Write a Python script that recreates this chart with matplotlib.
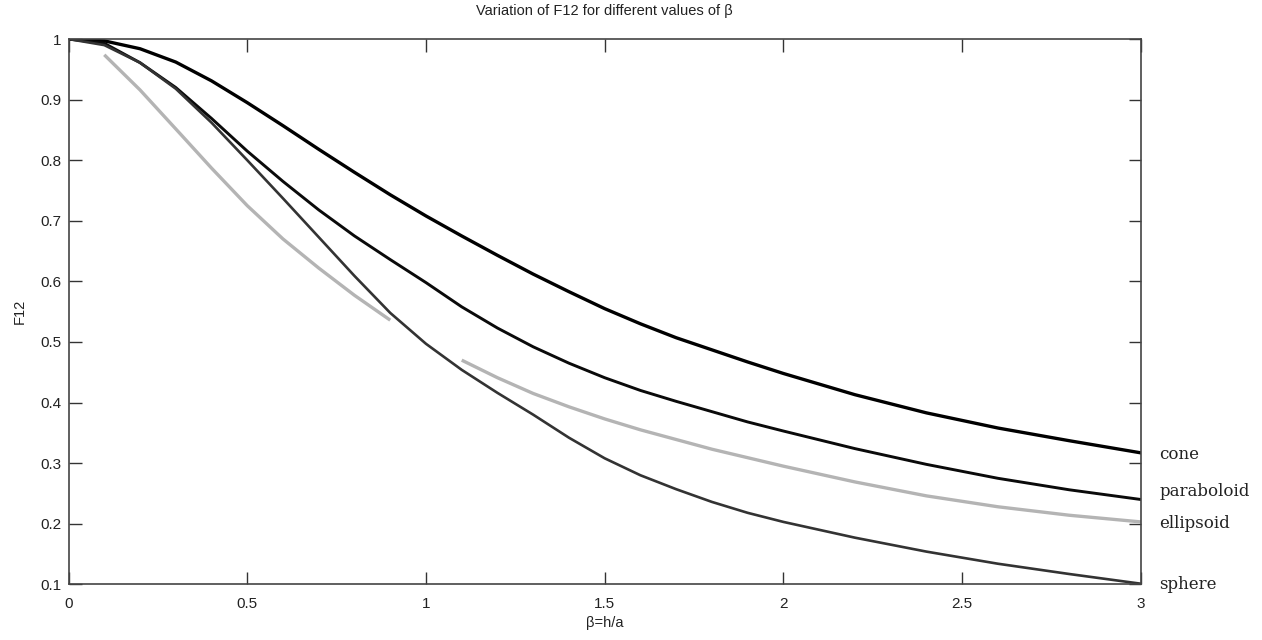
import numpy as np
import matplotlib
matplotlib.use("Agg")
import matplotlib.pyplot as plt
import matplotlib.transforms as mtransforms

# values
beta = [0, 0.1, 0.2, 0.3, 0.4, 0.5, 0.6, 0.7, 0.8, 0.9, 1.0, 1.1, 1.2, 1.3, 1.4,
        1.5, 1.6, 1.7, 1.8, 1.9, 2.0, 2.2, 2.4, 2.6, 2.8, 3.0]
cone_f = [1.0, 0.997, 0.984, 0.962, 0.931, 0.895, 0.857, 0.818, 0.78, 0.743, 0.708,
          0.675, 0.643, 0.612, 0.583, 0.555, 0.53, 0.507, 0.487, 0.467, 0.448,
          0.413, 0.383, 0.358, 0.337, 0.317]
para_f = [1.0, 0.993, 0.961, 0.92, 0.869, 0.815, 0.765, 0.718, 0.675, 0.636, 0.598,
          0.558, 0.523, 0.492, 0.465, 0.441, 0.42, 0.402, 0.385, 0.368, 0.353,
          0.324, 0.298, 0.275, 0.256, 0.240]
sph_f = [1.0, 0.99, 0.961, 0.918, 0.862, 0.8, 0.737, 0.673, 0.609, 0.548, 0.497,
         0.454, 0.416, 0.38, 0.342, 0.308, 0.28, 0.257, 0.236, 0.218, 0.203,
         0.177, 0.154, 0.134, 0.117, 0.101]

# ellipsoid is drawn in two pieces with a gap around beta = 1
ell1_b = [0.1, 0.2, 0.315, 0.4, 0.5, 0.6, 0.7, 0.8, 0.9]
ell1_f = [0.974, 0.916, 0.842, 0.787, 0.725, 0.67, 0.622, 0.577, 0.536]
ell2_b = [1.1, 1.2, 1.3, 1.4, 1.5, 1.6, 1.7, 1.8, 1.9, 2.0, 2.2, 2.4, 2.6, 2.8, 3.0]
ell2_f = [0.47, 0.441, 0.415, 0.393, 0.373, 0.355, 0.339, 0.323, 0.309, 0.295,
          0.269, 0.246, 0.228, 0.214, 0.203]

names = ["cone", "paraboloid", "ellipsoid", "sphere"]
xticks = [0, 0.5, 1, 1.5, 2, 2.5, 3]
yticks = [0.1, 0.2, 0.3, 0.4, 0.5, 0.6, 0.7, 0.8, 0.9, 1]

plt.rcParams['font.family'] = ['Liberation Sans', 'DejaVu Sans']

fig = plt.figure(figsize=(12.62, 6.4), dpi=100)
ax = fig.add_axes([0.0543, 0.087, 0.8497, 0.852])

ax.plot(beta, cone_f, color='#000000', lw=2.4)
ax.plot(beta, para_f, color='#0a0a0a', lw=2.1)
ax.plot(beta, sph_f, color='#333333', lw=1.9)
ax.plot(ell1_b, ell1_f, color='#b4b4b4', lw=2.4, solid_capstyle='butt')
ax.plot(ell2_b, ell2_f, color='#b4b4b4', lw=2.4, solid_capstyle='butt')

ax.set_xlim(0, 3)
ax.set_ylim(0.1, 1)
ax.set_xticks(xticks)
ax.set_xticklabels([f"{t:g}" for t in xticks])
ax.set_yticks(yticks)
ax.set_yticklabels([f"{t:g}" for t in yticks])
ax.tick_params(direction='in', length=9, width=1, color='#333333',
               top=True, right=True, labelsize=11, labelcolor='#222222')
ax.tick_params(axis='x', pad=9)
ax.tick_params(axis='y', pad=5)
for s in ax.spines.values():
    s.set_color('#444444')
    s.set_linewidth(1.2)

ax.set_title("Variation of F12 for different values of β", fontsize=10.5, pad=17, color='#222222')
ax.set_xlabel("β=h/a", fontsize=10.5, labelpad=4, color='#222222')
ax.set_ylabel("F12", fontsize=10.5, labelpad=10, color='#222222')

# shape names beside the curve ends
trans = mtransforms.blended_transform_factory(ax.transAxes, ax.transData)
label_y = [0.315, 0.253, 0.200, 0.100]
for n, y in zip(names, label_y):
    ax.text(1.017, y, n, transform=trans, va='center', ha='left',
            fontsize=12, family='DejaVu Serif', color='#222222', clip_on=False)

fig.savefig("out.png", dpi=100)
